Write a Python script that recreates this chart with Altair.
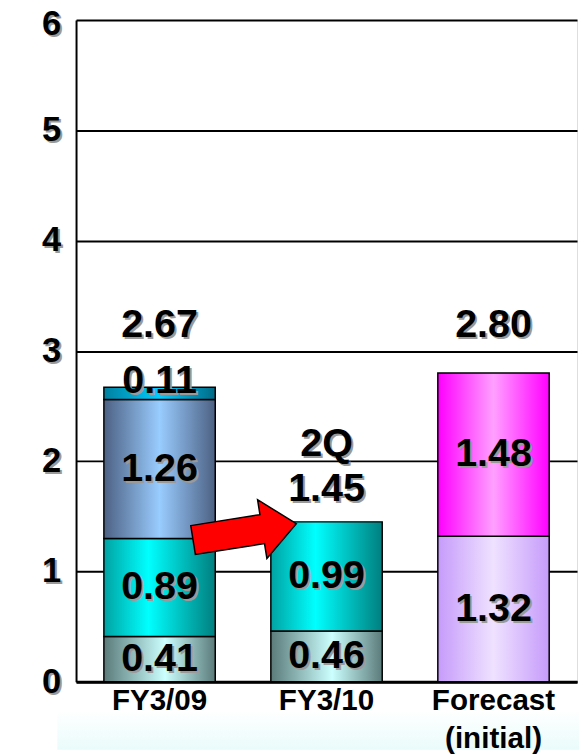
import altair as alt
import pandas as pd

# ---- data ----
cat_order = ["FY3/09", "FY3/10", "Forecast (initial)"]
categories = ["FY3/09", "FY3/09", "FY3/09", "FY3/09", "FY3/10", "FY3/10",
              "Forecast (initial)", "Forecast (initial)"]
segments = ["base", "mid", "upper", "top", "base", "mid", "fc_low", "fc_high"]
values = [0.41, 0.89, 1.26, 0.11, 0.46, 0.99, 1.32, 1.48]
stack_order = [0, 1, 2, 3, 0, 1, 0, 1]
total_notes = ["", "2Q", ""]
y_ticks = [0, 1, 2, 3, 4, 5, 6]

df = pd.DataFrame({"cat": categories, "seg": segments, "value": values, "ord": stack_order})
totals = df.groupby("cat", sort=False)["value"].sum().reindex(cat_order).reset_index()
totals.columns = ["cat", "total"]
totals["note"] = total_notes
totals["maxtot"] = totals["total"].max()

FONT = "Liberation Sans"
PLOT_H = 671


def hgrad(stops):
    return alt.Gradient(
        gradient="linear", x1=0, x2=1, y1=0, y2=0,
        stops=[alt.GradientStop(offset=o, color=c) for o, c in stops],
    )


seg_fills = {
    "base": hgrad([(0, "#5b7b7a"), (0.55, "#ccffff"), (1, "#5b7b7a")]),
    "mid": hgrad([(0, "#00a3a3"), (0.4, "#00ffff"), (1, "#007f7f")]),
    "upper": hgrad([(0, "#4d6183"), (0.5, "#99ccff"), (1, "#4d6183")]),
    "top": hgrad([(0, "#00809f"), (0.5, "#00ccff"), (1, "#006a85")]),
    "fc_low": hgrad([(0, "#c69bfb"), (0.5, "#efe2ff"), (1, "#c69bfb")]),
    "fc_high": hgrad([(0, "#ff00ff"), (0.5, "#ffa0ff"), (1, "#ff00ff")]),
}

x_enc = alt.X(
    "cat:N", sort=cat_order,
    scale=alt.Scale(domain=cat_order, paddingInner=0.333, paddingOuter=0.1667),
    axis=alt.Axis(title=None, labels=False, ticks=False, domain=True,
                  domainColor="black", domainWidth=3),
)
y_scale = alt.Scale(domain=[0, 6], nice=False)
y_axis = alt.Axis(title=None, labels=False, ticks=False, values=y_ticks,
                  grid=True, gridColor="black", gridWidth=2, gridOpacity=1,
                  domain=True, domainColor="black", domainWidth=2)

stacked = alt.Chart(df).transform_stack(
    stack="value", groupby=["cat"], as_=["y0", "y1"], sort=[alt.SortField("ord")]
).transform_calculate(mid="(datum.y0 + datum.y1) / 2")

layers = []

# faint background band under the x labels (decorative)
bg = alt.Chart(pd.DataFrame({"a": [0]})).mark_rect(
    fill=alt.Gradient(gradient="linear", x1=0, x2=0, y1=0, y2=1,
                      stops=[alt.GradientStop(offset=0, color="#ffffff"),
                             alt.GradientStop(offset=1, color="#eafbfb")]),
    clip=False,
).encode(x=alt.value(-19), x2=alt.value(510), y=alt.value(700), y2=alt.value(740))
layers.append(bg)

for s, fill in seg_fills.items():
    layers.append(
        stacked.transform_filter(alt.datum.seg == s)
        .mark_bar(fill=fill, stroke="black", strokeWidth=1.5, opacity=1)
        .encode(x=x_enc, y=alt.Y("y0:Q", scale=y_scale, axis=y_axis), y2="y1:Q")
    )

# category labels under the axis (two lines for the forecast)
layers.append(
    alt.Chart(pd.DataFrame({"cat": cat_order}))
    .transform_calculate(lines="split(datum.cat, ' ')")
    .mark_text(font=FONT, fontSize=30, fontWeight="bold", color="black",
               baseline="top", align="center", lineHeight=38, clip=False)
    .encode(x=x_enc, y=alt.value(PLOT_H + 5), text="lines:N")
)

txt = dict(font=FONT, fontSize=40, fontWeight="bold", baseline="middle", align="center")
SHADOW = "#9a9a9a"

for color, dx, dy in [(SHADOW, 2, 2), ("black", 0, 0)]:
    # segment labels
    layers.append(
        stacked.transform_filter(alt.datum.seg != "top")
        .mark_text(color=color, dx=dx, dy=dy, **txt)
        .encode(x=x_enc, y=alt.Y("mid:Q", scale=y_scale, axis=y_axis),
                text=alt.Text("value:Q", format=".2f"))
    )
    layers.append(
        stacked.transform_filter(alt.datum.seg == "top")
        .mark_text(color=color, dx=dx, dy=dy - 12, **txt)
        .encode(x=x_enc, y=alt.Y("mid:Q", scale=y_scale, axis=y_axis),
                text=alt.Text("value:Q", format=".2f"))
    )
    # totals
    tot = alt.Chart(totals)
    layers.append(
        tot.transform_filter(alt.datum.note == "")
        .mark_text(color=color, dx=dx, dy=dy - 48, **txt)
        .encode(x=x_enc, y=alt.Y("maxtot:Q", scale=y_scale, axis=y_axis),
                text=alt.Text("total:Q", format=".2f"))
    )
    layers.append(
        tot.transform_filter(alt.datum.note != "")
        .mark_text(color=color, dx=dx, dy=dy - 33, **txt)
        .encode(x=x_enc, y=alt.Y("total:Q", scale=y_scale, axis=y_axis),
                text=alt.Text("total:Q", format=".2f"))
    )
    layers.append(
        tot.transform_filter(alt.datum.note != "")
        .mark_text(color=color, dx=dx, dy=dy - 79, **txt)
        .encode(x=x_enc, y=alt.Y("total:Q", scale=y_scale, axis=y_axis), text="note:N")
    )
    # y tick labels (the top one nudged down to stay inside the page)
    ticks_df = pd.DataFrame({"t": y_ticks})
    tick_txt = dict(font=FONT, fontSize=35, fontWeight="bold", baseline="middle",
                    align="right", color=color, clip=False)
    layers.append(
        alt.Chart(ticks_df).transform_filter(alt.datum.t < max(y_ticks))
        .mark_text(dx=dx, dy=dy, **tick_txt)
        .encode(x=alt.value(-15), y=alt.Y("t:Q", scale=y_scale, axis=y_axis), text="t:Q")
    )
    layers.append(
        alt.Chart(ticks_df).transform_filter(alt.datum.t == max(y_ticks))
        .mark_text(dx=dx, dy=dy + 4, **tick_txt)
        .encode(x=alt.value(-15), y=alt.Y("t:Q", scale=y_scale, axis=y_axis), text="t:Q")
    )

# red arrow annotation from FY3/09 to FY3/10
arrow_path = "M -1 -0.28 L 0.34 -0.28 L 0.34 -0.57 L 1 0 L 0.34 0.57 L 0.34 0.28 L -1 0.28 Z"
arrow = alt.Chart(pd.DataFrame({"a": [0]})).mark_point(
    shape=arrow_path, size=11236, angle=351, filled=True, fill="#ff0000",
    stroke="black", strokeWidth=1.5, opacity=1, fillOpacity=1, strokeOpacity=1,
).encode(x=alt.value(171), y=alt.value(519))
layers.append(arrow)

chart = alt.layer(*layers).properties(
    width=508, height=PLOT_H,
    autosize=alt.AutoSizeParams(type="none"),
    padding={"left": 69, "top": 7, "right": 2, "bottom": 69},
).configure_view(stroke="black", strokeWidth=2).configure(background="white")

chart.save("out.html", embed_options={"renderer": "svg", "actions": False})
